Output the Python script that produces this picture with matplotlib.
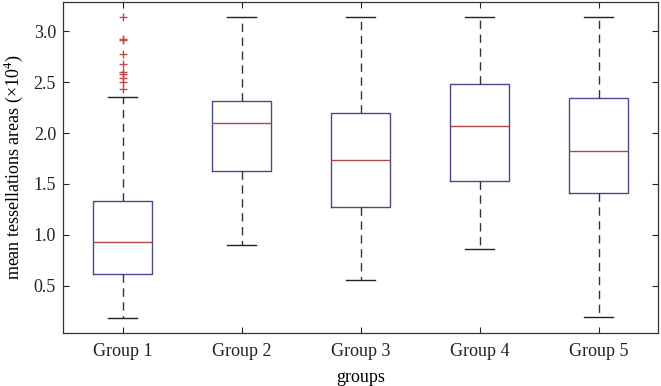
import matplotlib
matplotlib.use("Agg")
import matplotlib.pyplot as plt

groups = ["Group 1", "Group 2", "Group 3", "Group 4", "Group 5"]
q1 = [0.610, 1.628, 1.268, 1.524, 1.412]
med = [0.924, 2.103, 1.740, 2.070, 1.828]
q3 = [1.330, 2.319, 2.197, 2.486, 2.342]
whislo = [0.178, 0.898, 0.551, 0.859, 0.191]
whishi = [2.358, 3.147, 3.147, 3.147, 3.147]
outliers_g1 = [3.147, 2.930, 2.915, 2.780, 2.676, 2.597, 2.585, 2.540, 2.500, 2.430]
fliers = [outliers_g1, [], [], [], []]
yticks = [0.5, 1.0, 1.5, 2.0, 2.5, 3.0]

plt.rcParams['font.family'] = ['Liberation Serif', 'DejaVu Serif']
plt.rcParams['mathtext.fontset'] = 'custom'
plt.rcParams['mathtext.rm'] = 'Liberation Serif'

fig = plt.figure(figsize=(6.61, 3.86), dpi=100)
ax = fig.add_axes([63/661, 1-333/386, 595/661, 331/386])

stats = []
for i, g in enumerate(groups):
    stats.append(dict(label=g, q1=q1[i], med=med[i], q3=q3[i],
                      whislo=whislo[i], whishi=whishi[i], fliers=fliers[i]))

ax.bxp(stats, positions=range(1, 6), widths=0.5, showfliers=True,
       boxprops=dict(color='#4a4a8c', linewidth=1.0),
       medianprops=dict(color='#b04a4a', linewidth=1.0),
       whiskerprops=dict(color='#333333', linewidth=1.0, linestyle=(0, (6, 4))),
       capprops=dict(color='#222222', linewidth=1.0),
       flierprops=dict(marker='+', markeredgecolor='#c84848', markersize=6,
                       linestyle='none', markeredgewidth=1.0))

ax.set_xlim(0.5, 5.5)
ax.set_ylim(0.033, 3.29)
ax.set_yticks(yticks)
ax.set_yticklabels([f"{v:.1f}" for v in yticks])
ax.set_xticks(range(1, 6))
ax.set_xticklabels(groups)
ax.tick_params(direction='in', top=True, right=True, length=4, width=0.8,
               labelsize=13, colors='#222222')
ax.tick_params(axis='x', pad=7)
ax.tick_params(axis='y', pad=5)
for s in ax.spines.values():
    s.set_color('#333333')
    s.set_linewidth(0.9)

ax.set_xlabel("groups", fontsize=13, labelpad=7)
ax.set_ylabel("mean tessellations areas (\u00d710$^{\\mathregular{4}}$)", fontsize=13, labelpad=6)

fig.savefig("out.png", dpi=100)
